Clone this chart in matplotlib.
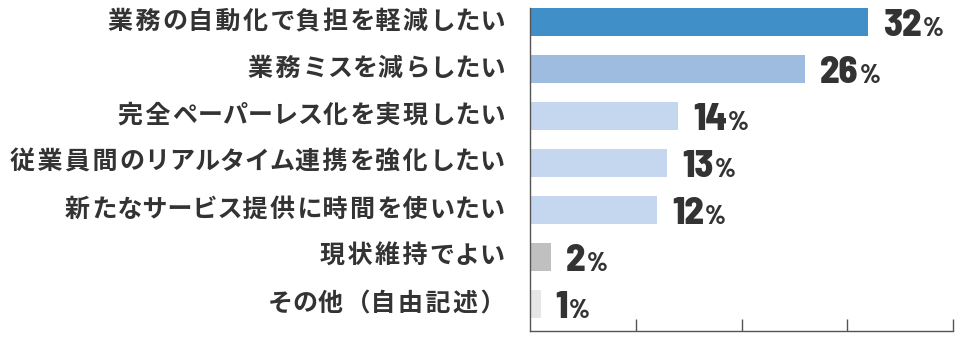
import matplotlib
matplotlib.use("Agg")
import matplotlib.pyplot as plt

categories = [
    "業務の自動化で負担を軽減したい",
    "業務ミスを減らしたい",
    "完全ペーパーレス化を実現したい",
    "従業員間のリアルタイム連携を強化したい",
    "新たなサービス提供に時間を使いたい",
    "現状維持でよい",
    "その他（自由記述）",
]
values = [32, 26, 14, 13, 12, 2, 1]
colors = ["#418fc8", "#9dbce0", "#c5d7ee", "#c5d7ee", "#c5d7ee", "#c0c0c0", "#e6e6e6"]

jp_font = ["Noto Sans CJK JP", "DejaVu Sans"]
num_font = "Barlow Semi Condensed"
text_color = "#333333"


def track(label):
    # kanji get a little extra room, kana stay tight
    out = ""
    for i, ch in enumerate(label):
        out += ch
        if i < len(label) - 1 and "\u4e00" <= ch <= "\u9fff":
            out += "\u200a"
    return out


fig = plt.figure(figsize=(9.6, 3.42), dpi=100)
ax = fig.add_axes([530 / 960, 11 / 342, 423 / 960, 323 / 342])

ypos = list(range(len(categories)))
ax.barh(ypos, values, height=0.6, color=colors)

ax.set_xlim(0, 40)
ax.set_ylim(6.574, -0.298)
ax.set_xticks([10, 20, 30, 40])
ax.set_xticklabels([])
ax.set_yticks([])
ax.tick_params(axis="x", direction="in", length=9, width=1, color="#555555")
for side in ("top", "right"):
    ax.spines[side].set_visible(False)
for side in ("left", "bottom"):
    ax.spines[side].set_color("#555555")
    ax.spines[side].set_linewidth(1)

# category labels to the left of the axis
for y, label in zip(ypos, categories):
    ax.annotate(track(label), xy=(0, y), xycoords=("axes fraction", "data"),
                xytext=(-25, 0), textcoords="offset pixels",
                ha="right", va="center", fontsize=18, fontweight="bold",
                family=jp_font, color=text_color)

# value labels: large number followed by a smaller percent sign
for y, v in zip(ypos, values):
    t = ax.annotate(str(v), xy=(v, y), xytext=(15, -14), textcoords="offset pixels",
                    ha="left", va="baseline", fontsize=27.5, fontweight="heavy",
                    family=num_font, color=text_color)
    ax.annotate("%", xy=(1, y), xycoords=(t, "data"), xytext=(1, -14),
                textcoords="offset pixels", ha="left", va="baseline",
                fontsize=19, fontweight="heavy", family=num_font, color=text_color)

fig.savefig("out.png", dpi=100)
